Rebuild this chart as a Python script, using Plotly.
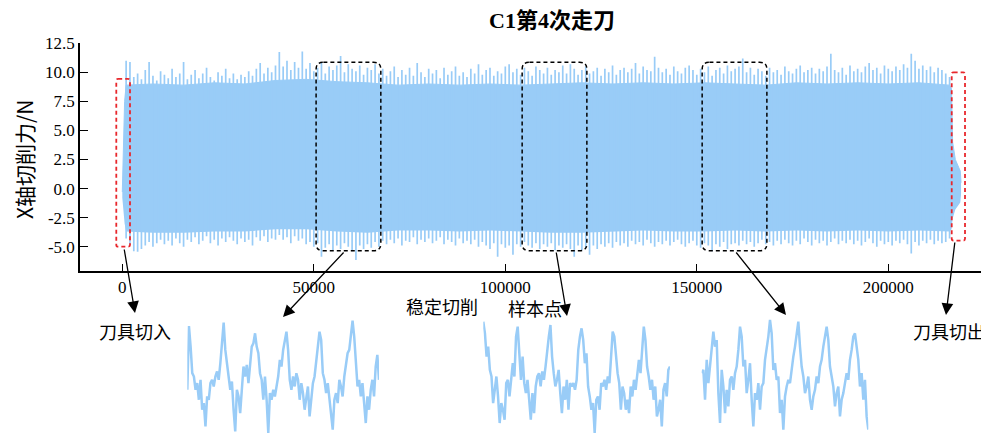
import plotly.graph_objects as go

# ---------------- data ----------------
# core (solid) band of the X-axis cutting force, sample index -> force (N)
core_x = [0, 300, 600, 1000, 8000, 16000, 24000, 32000, 40000, 48000, 56000, 64000,
          72000, 80000, 88000, 96000, 104000, 112000, 120000, 128000, 136000, 144000,
          152000, 160000, 168000, 176000, 184000, 192000, 200000, 208000, 216000,
          216500, 216800, 217500, 218200, 218800, 219000]
core_top = [-0.3, 3.0, 7.5, 8.9, 9.0, 8.9, 9.1, 9.0, 9.3, 9.4, 9.2, 9.1, 8.9, 9.0, 8.9,
            9.0, 8.9, 9.0, 9.1, 9.0, 9.1, 9.0, 9.1, 9.0, 8.9, 9.1, 9.0, 9.1, 9.0, 9.1,
            8.9, 8.6, 4.0, 2.5, 1.9, 1.5, 0.5]
core_bot = [-0.8, -2.0, -3.0, -3.7, -3.8, -3.8, -3.7, -3.7, -3.5, -3.5, -3.7, -3.8, -3.6,
            -3.6, -3.7, -3.6, -3.7, -3.8, -3.8, -3.7, -3.6, -3.7, -3.7, -3.6, -3.7, -3.6,
            -3.7, -3.6, -3.7, -3.6, -3.7, -3.5, -2.6, -1.8, -1.5, -1.2, -0.5]

# per-1000-sample peaks (max / min) of the stable cutting section
peak_x = list(range(1000, 217000, 1000))
peak_max = [
    11.0, 10.9, 9.6, 9.9, 9.4, 10.2, 10.9, 9.7, 9.3, 10.1,
    9.8, 9.5, 10.3, 9.6, 9.9, 10.9, 9.4, 9.8, 10.2, 9.5,
    9.9, 10.4, 9.6, 9.3, 10.0, 9.7, 10.3, 9.5, 9.9, 9.4,
    9.8, 9.6, 10.1, 9.7, 10.3, 10.8, 9.9, 10.4, 10.0, 10.6,
    11.75, 10.5, 11.0, 10.2, 10.9, 10.4, 11.8, 10.3, 10.8, 10.1,
    10.4, 10.8, 9.9, 10.5, 10.2, 10.6, 11.4, 10.0, 10.7, 10.3,
    10.1, 10.6, 9.8, 10.4, 10.2, 10.7, 9.9, 10.3, 9.7, 10.1,
    10.5, 9.6, 10.2, 9.8, 10.4, 9.7, 10.8, 10.0, 9.6, 10.3,
    9.9, 10.2, 9.5, 10.4, 9.8, 10.1, 10.5, 9.7, 10.0, 9.6,
    10.3, 9.9, 10.7, 9.8, 10.2, 10.4, 9.7, 10.1, 9.9, 10.5,
    10.7, 10.0, 10.3, 9.8, 10.4, 10.1, 9.7, 10.5, 10.2, 9.9,
    10.4, 9.8, 10.2, 10.0, 10.6, 9.9, 10.7, 10.3, 9.8, 10.2,
    10.5, 9.9, 10.1, 10.4, 9.7, 10.3, 10.0, 10.6, 9.8, 10.2,
    10.4, 10.0, 10.3, 10.8, 9.9, 10.5, 10.2, 10.1, 11.35, 10.4,
    10.0, 10.3, 9.8, 10.5, 10.1, 9.9, 10.4, 10.6, 10.2, 9.8,
    10.3, 10.0, 10.5, 9.7, 10.2, 10.4, 9.9, 10.6, 10.1, 10.3,
    10.5, 11.2, 10.0, 10.4, 9.8, 10.3, 10.1, 9.7, 10.4, 10.0,
    10.2, 9.8, 10.5, 10.1, 9.9, 10.3, 10.6, 10.0, 10.2, 10.4,
    9.9, 10.3, 10.1, 10.5, 11.6, 10.2, 10.0, 10.4, 9.8, 10.6,
    10.1, 10.3, 10.0, 10.5, 10.8, 10.2, 10.4, 9.9, 10.6, 10.3,
    10.1, 10.5, 10.2, 10.7, 10.4, 11.6, 11.0, 10.3, 10.6, 10.2,
    10.5, 10.0, 10.4, 10.2, 9.9, 9.6]
peak_min = [
    -4.3, -4.8, -5.4, -5.43, -5.2, -4.9, -4.6, -5.0, -4.7, -4.4,
    -4.8, -4.5, -4.9, -4.3, -4.7, -5.0, -4.4, -4.6, -4.2, -4.8,
    -4.5, -4.1, -4.7, -4.4, -4.9, -4.3, -4.6, -4.2, -4.5, -4.8,
    -4.3, -4.6, -4.4, -4.9, -4.2, -4.5, -4.1, -4.6, -4.3, -4.4,
    -4.0, -4.4, -4.2, -4.7, -4.1, -4.5, -4.3, -4.8, -4.6, -5.0,
    -4.7, -5.86, -5.1, -4.8, -5.3, -4.9, -5.2, -4.7, -5.0, -5.4,
    -6.15, -4.9, -5.2, -4.8, -5.1, -4.6, -5.0, -4.5, -4.8, -4.4,
    -4.7, -4.3, -4.9, -4.5, -4.6, -4.2, -4.8, -4.4, -4.6, -4.3,
    -4.7, -4.5, -4.2, -4.8, -4.4, -4.6, -4.9, -4.3, -4.7, -4.5,
    -4.8, -4.4, -5.0, -4.6, -4.9, -5.2, -4.7, -5.86, -4.8, -5.1,
    -4.9, -5.7, -4.8, -5.0, -4.6, -4.9, -5.1, -4.7, -5.2, -4.8,
    -5.0, -4.7, -5.3, -4.9, -5.1, -4.8, -5.2, -5.86, -4.9, -5.3,
    -5.1, -5.7, -4.9, -5.2, -4.8, -5.0, -4.7, -5.1, -4.6, -4.9,
    -4.7, -5.0, -4.5, -4.8, -4.6, -4.9, -4.4, -4.7, -5.0, -4.6,
    -4.8, -4.5, -4.9, -4.6, -4.4, -4.8, -5.0, -4.7, -4.5, -4.9,
    -5.1, -4.7, -4.9, -5.4, -4.8, -5.0, -4.6, -5.2, -4.8, -4.7,
    -4.9, -4.5, -4.8, -4.6, -5.0, -4.7, -4.4, -4.8, -4.6, -4.9,
    -4.5, -4.8, -4.4, -4.7, -4.9, -4.5, -4.8, -4.3, -4.6, -4.9,
    -4.4, -4.7, -4.5, -4.9, -4.6, -4.3, -4.8, -4.5, -4.7, -4.4,
    -4.8, -4.5, -4.9, -4.6, -4.3, -4.7, -5.0, -4.5, -4.8, -4.6,
    -4.9, -4.5, -4.7, -4.4, -4.8, -5.6, -4.6, -4.9, -4.5, -4.7,
    -4.4, -4.8, -4.5, -4.7, -4.6, -4.3]

# zoomed sample snippets (force, N)
inset1 = [1.5, 11.1, 8, 4, 3.5, 1.5, 2.5, 0, 3, -1.5, -0.5, -4, 0.5, 0, 2.5, 3, 2, 3.5, 4.25, 3,
          5.5, 8.5, 11.6, 7.5, 5, 3.5, 1.5, 2.75, -1.5, -4.75, 1.5, 0.5, -2, 1, 5, 3.5, 5.25, 2.5,
          5, 8, 8.5, 10, 8, 7, 4, 3, 0, 3.5, 0, -5, 1, 0, 1.5, 0.5, 2, 3.5, 6, 5, 7.5, 9, 10.25,
          7.5, 3, 1.5, 3.5, 2, 4, 3, 0, 2.5, 1, -1.5, 0, 2, -2.5, 0, 2.5, 3.5, 6, 7.5, 10.25, 9,
          4, 3, 1, 2.5, 0, -1.5, -4.5, 0, 1, -0.5, 3, 2, 0.5, 3.5, 5, 7, 7.5, 10, 11.9, 9.5, 5, 2,
          3, 0.5, 2.5, -1, -3.5, 0.5, -1.5, 1.5, 3, 0.5, 5, 6.75, 3]
inset2 = [11.75, 10, 6.5, 8, 4.5, 3.5, -0.5, 2, 3.5, 0.5, -3.5, -0.5, -1.5, -3, 2.5, 3, 0.5, 3,
          5.5, 3.5, 9.5, 11, 6.5, 3, 6.5, 2.5, 1, 3, 0, -3, 1, -2, 2, 3.5, 4, 2, 4.25, 3, 5, 7.5,
          9.5, 11.25, 6.5, 4, 2, 3, 4.5, 1, -2, 2, 0, 3, -1.5, 2.5, 2, 2.5, 1.5, 3, 7.5, 9.5,
          10.75, 9, 5.5, 7, 2, 0.5, -1.5, -0.5, -5, 0, 0.5, -1.5, 2.5, 2, 3, 1.5, 3.5, 2.5, 7.5,
          10.25, 9.5, 6, 4, 2.5, -1.5, 2, 1, -1.5, 0, -2, 2, 0.5, 3, 1.5, 3.5, 6, 4, 7.5, 11, 9,
          5, 3.5, 1.5, 3, 0, 2, -2.5, -1.5, 0, -4, 1.5, 2.5, 0.5, 4.5, 5]
inset3 = [4, 4.5, 0, 6, 2.5, 5, 7.5, 10.25, 8, 9, 1, -3.5, 4.5, 2, -2, 1.5, -1, 3, 3.5, 1.5, 4,
          5, 7.5, 11, 9.5, 5, 6, 1, 3, 5.5, 0, -4, 1, 0, 2.5, -1.5, 2, 2.5, 6, 7.5, 9.5, 12, 10,
          4.5, 5.5, 3, 3.5, -2, 0, -4.5, 0.5, 2, 3, 2.5, 5, 6.5, 8, 10, 11.75, 8, 5, 3.5, 1, 2,
          3.5, 0, -1.5, 0.5, 1.5, 3.5, 2.5, 5, 6, 8, 9.5, 11, 9, 5, 3.5, 2, -1, 1, 2, -2.5, 0, 1,
          2.5, 4, 3, 6, 7.5, 9.5, 10, 8, 6, 2, 4, 0, 3, -2.5, -4.5]

y_ticks = [-5.0, -2.5, 0.0, 2.5, 5.0, 7.5, 10.0, 12.5]
x_ticks = [0, 50000, 100000, 150000, 200000]

# --------------- style ---------------
OFF = 8                      # page body margin
W, H = 989 - OFF, 438 - OFF
BAND = "#99CCF7"
SERIF = "Liberation Serif"
CJK = "Noto Sans CJK SC"


def px_x(p):
    return (p - OFF) / W


def px_y(p):
    return 1 - (p - OFF) / H


fig = go.Figure()

# core band
fig.add_trace(go.Scatter(x=core_x, y=core_bot, mode="lines", line=dict(width=0, color=BAND),
                         showlegend=False, hoverinfo="skip"))
fig.add_trace(go.Scatter(x=core_x, y=core_top, mode="lines", line=dict(width=1, color=BAND),
                         fill="tonexty", fillcolor=BAND, showlegend=False, hoverinfo="skip"))

# peaks as thin vertical strokes
seg_x, seg_y = [], []
for xv, lo, hi in zip(peak_x, peak_min, peak_max):
    seg_x += [xv, xv, None]
    seg_y += [lo, hi, None]
fig.add_trace(go.Scatter(x=seg_x, y=seg_y, mode="lines", line=dict(width=1.7, color=BAND),
                         showlegend=False, hoverinfo="skip"))

# insets
inset_domains = [(187.3, 379.0), (483.3, 670.0), (701.7, 868.3)]
for k, (vals, (a, b)) in enumerate(zip([inset1, inset2, inset3], inset_domains), start=2):
    fig.add_trace(go.Scatter(x=list(range(len(vals))), y=vals, mode="lines",
                             line=dict(width=2.5, color=BAND), showlegend=False,
                             hoverinfo="skip", xaxis=f"x{k}", yaxis=f"y{k}"))
    fig.update_layout(**{
        f"xaxis{k}": dict(domain=[px_x(a), px_x(b)], range=[0, len(vals) - 1], visible=False,
                          anchor=f"y{k}"),
        f"yaxis{k}": dict(domain=[px_y(435), px_y(318)], range=[-5.3, 12.3], visible=False,
                          anchor=f"x{k}"),
    })


# rounded dashed boxes (data coords)
def rounded_box(x0, x1, y0, y1, rx, ry):
    return (f"M {x0 + rx},{y1} L {x1 - rx},{y1} Q {x1},{y1} {x1},{y1 - ry} "
            f"L {x1},{y0 + ry} Q {x1},{y0} {x1 - rx},{y0} L {x0 + rx},{y0} "
            f"Q {x0},{y0} {x0},{y0 + ry} L {x0},{y1 - ry} Q {x0},{y1} {x0 + rx},{y1} Z")


shapes = []
for (x0, x1) in [(50600, 67500), (104400, 121300), (151400, 168300)]:
    shapes.append(dict(type="path", xref="x", yref="y",
                       path=rounded_box(x0, x1, -5.35, 10.87, 1900, 0.6),
                       line=dict(color="black", width=1.5, dash="4px,3px")))
shapes.append(dict(type="path", xref="x", yref="y",
                   path=rounded_box(-1570, 2010, -5.0, 9.43, 500, 0.15),
                   line=dict(color="#E8272C", width=1.8, dash="4px,3px")))
shapes.append(dict(type="path", xref="x", yref="y",
                   path=rounded_box(216560, 220030, -4.48, 10.0, 500, 0.15),
                   line=dict(color="#E8272C", width=1.8, dash="4px,3px")))

# arrows (start px -> tip px)
arrows = [((124, 248), (135, 313)), ((345, 251), (283, 317)), ((556, 251), (567, 316)),
          ((735, 251), (786, 315)), ((955, 241), (946, 315))]
annotations = []
for (sx, sy), (tx, ty) in arrows:
    annotations.append(dict(x=px_x(tx), y=px_y(ty), ax=sx - tx, ay=sy - ty,
                            xref="paper", yref="paper", axref="pixel", ayref="pixel",
                            text="", showarrow=True, arrowhead=2, arrowsize=1.8,
                            arrowwidth=1.3, arrowcolor="black"))

labels = [("刀具切入", 135, 331), ("刀具切出", 949, 331), ("稳定切削", 442, 306), ("样本点", 535, 308)]
for t, x, y in labels:
    annotations.append(dict(x=px_x(x), y=px_y(y), xref="paper", yref="paper", text=t,
                            showarrow=False, xanchor="center", yanchor="middle",
                            borderpad=0,
                            font=dict(family=CJK, size=18, color="black")))

annotations.append(dict(x=px_x(552), y=px_y(20), xref="paper", yref="paper",
                        text="<b>C1第4次走刀</b>", showarrow=False, xanchor="center",
                        yanchor="middle",
                        font=dict(family=f"{SERIF}, {CJK}", size=22, color="black")))
annotations.append(dict(x=px_x(24), y=px_y(160), xref="paper", yref="paper",
                        text="X轴切削力/N", showarrow=False, textangle=-90,
                        xanchor="center", yanchor="middle",
                        font=dict(family=CJK, size=21, color="black")))

fig.update_layout(
    template="none",
    width=W, height=H,
    margin=dict(l=0, r=0, t=0, b=0, pad=0, autoexpand=False),
    paper_bgcolor="white", plot_bgcolor="white",
    showlegend=False,
    shapes=shapes,
    annotations=annotations,
    xaxis=dict(domain=[px_x(80), 1.0], range=[-11045, 226295], showline=True,
               linecolor="black", linewidth=1.6, ticks="inside", ticklen=7, tickwidth=1.4,
               tickcolor="black", tickvals=x_ticks, ticktext=[str(v) for v in x_ticks],
               showgrid=False, zeroline=False, anchor="y", automargin=False,
               tickfont=dict(family=SERIF, size=17, color="black")),
    yaxis=dict(domain=[px_y(270.7), px_y(43.3)], range=[-7.07, 12.5], showline=True,
               linecolor="black", linewidth=1.6, ticks="inside", ticklen=8, tickwidth=1.4,
               tickcolor="black", tickvals=y_ticks, ticktext=[f"{v:.1f}" for v in y_ticks],
               showgrid=False, zeroline=False, anchor="x", automargin=False,
               tickfont=dict(family=SERIF, size=17, color="black")),
)

fig.write_html("out.html")
